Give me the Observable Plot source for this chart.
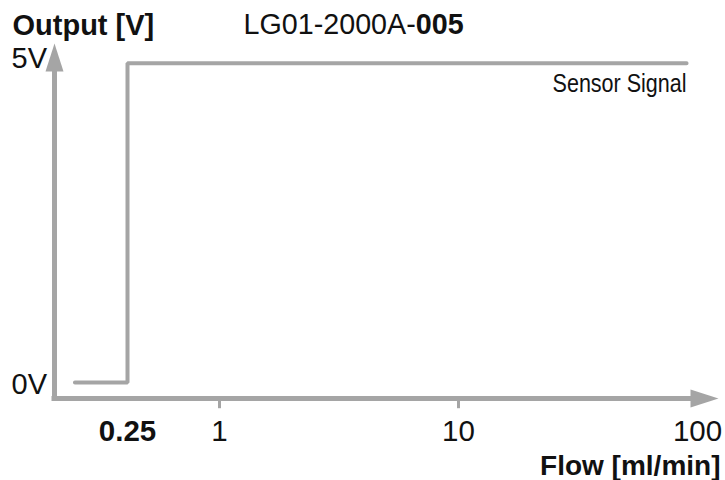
<!DOCTYPE html>
<html>
<head>
<meta charset="utf-8">
<script src="https://cdn.jsdelivr.net/npm/d3@7"></script>
<script src="https://cdn.jsdelivr.net/npm/@observablehq/plot@0.6"></script>
<style>
  html, body { margin: 0; padding: 0; background: #fff; }
</style>
</head>
<body>
<div id="chart"></div>
<script>
// ---- data ----
const flowTicks = [0.25, 1, 10, 100];
const flowTickLabels = ["0.25", "1", "10", "100"];
const tickMarkFlow = [1, 10];
const voltTicks = [5, 0];
const voltTickLabels = ["5V", "0V"];
const signalFlow = [0.1, 0.25, 0.25, 90];
const signalVolt = [0, 0, 5, 5];
const xAxisFlow = [0.07, 100, 122];   // start, line end, arrow tip
const yAxisVolt = [-0.25, 5, 5.31];   // origin, line end, arrow tip
const titleText = "Output [V]";
const modelText = "LG01-2000A-005";
const xTitleText = "Flow [ml/min]";
const seriesLabel = "Sensor Signal";

const GRAY = "#a5a5a5";
const INK = "#111";

const signal = signalFlow.map((f, i) => ({flow: f, volt: signalVolt[i]}));
const ticks = flowTicks.map((f, i) => ({flow: f, label: flowTickLabels[i]}));
const vticks = voltTicks.map((v, i) => ({volt: v, label: voltTickLabels[i]}));

const arrowRight = {draw(ctx) { ctx.moveTo(0, 0); ctx.lineTo(-28, -9); ctx.lineTo(-28, 9); ctx.closePath(); }};
const arrowUp = {draw(ctx) { ctx.moveTo(0, 0); ctx.lineTo(-9, 28); ctx.lineTo(9, 28); ctx.closePath(); }};

const chart = Plot.plot({
  width: 725,
  height: 480,
  marginLeft: 54,
  marginRight: 7,
  marginTop: 43,
  marginBottom: 82,
  style: {fontFamily: "'Liberation Sans', Arial, sans-serif", background: "#fff", color: INK},
  x: {type: "log", domain: [xAxisFlow[0], 0.25, 1, 100, xAxisFlow[2]], range: [54, 127, 219, 697, 718], axis: null},
  y: {type: "linear", domain: [yAxisVolt[0], yAxisVolt[2]], axis: null},
  marks: [
    // axes lines
    Plot.ruleY([{y: yAxisVolt[0], x1: xAxisFlow[0], x2: xAxisFlow[1]}], {y: "y", x1: "x1", x2: "x2", stroke: GRAY, strokeWidth: 5, strokeLinecap: "square"}),
    Plot.ruleX([{x: xAxisFlow[0], y1: yAxisVolt[0], y2: yAxisVolt[1]}], {x: "x", y1: "y1", y2: "y2", stroke: GRAY, strokeWidth: 5, strokeLinecap: "square"}),
    // arrow heads
    Plot.dot([{x: xAxisFlow[2], y: yAxisVolt[0]}], {x: "x", y: "y", symbol: arrowRight, fill: GRAY, stroke: "none"}),
    Plot.dot([{x: xAxisFlow[0], y: yAxisVolt[2]}], {x: "x", y: "y", symbol: arrowUp, fill: GRAY, stroke: "none"}),
    // tick marks
    Plot.ruleX(tickMarkFlow, {x: d => d, y1: yAxisVolt[0], y2: -0.41, stroke: GRAY, strokeWidth: 3}),
    // signal
    Plot.line(signal, {x: "flow", y: "volt", stroke: GRAY, strokeWidth: 4, strokeLinejoin: "miter"}),
    // x tick labels
    Plot.text(ticks.filter(d => d.label === "0.25"), {x: "flow", y: () => yAxisVolt[0], text: "label", fontSize: 29.5, fontWeight: "bold", fill: INK, lineAnchor: "bottom", dy: 42}),
    Plot.text(ticks.filter(d => d.label !== "0.25"), {x: "flow", y: () => yAxisVolt[0], text: "label", fontSize: 29.5, fill: INK, lineAnchor: "bottom", dy: 42}),
    // y tick labels
    Plot.text(vticks.filter(d => d.volt === 5), {x: () => xAxisFlow[0], y: "volt", text: "label", fontSize: 29, fill: INK, textAnchor: "start", lineAnchor: "bottom", dx: -43, dy: 5}),
    Plot.text(vticks.filter(d => d.volt === 0), {x: () => xAxisFlow[0], y: "volt", text: "label", fontSize: 29, fill: INK, textAnchor: "start", lineAnchor: "bottom", dx: -43, dy: 11}),
    // series label
    Plot.text([seriesLabel], {x: () => signalFlow[3], y: () => signalVolt[3], text: d => d, fontSize: 25, fill: INK, textAnchor: "end", lineAnchor: "bottom", dy: 29}),
    // titles
    Plot.text([titleText], {frameAnchor: "top-left", text: d => d, fontSize: 29, fontWeight: "bold", fill: INK, textAnchor: "start", lineAnchor: "bottom", dx: -42, dy: -9}),
    Plot.text([modelText], {frameAnchor: "top-left", text: d => d, fontSize: 28.7, fill: INK, textAnchor: "start", lineAnchor: "bottom", dx: 189, dy: -10}),
    Plot.text([xTitleText], {frameAnchor: "bottom-right", text: d => d, fontSize: 28, fontWeight: "bold", fill: INK, textAnchor: "end", lineAnchor: "bottom", dx: 2, dy: 76})
  ]
});

// mixed weight model name and condensed series label
d3.select(chart).selectAll("text").each(function() {
  const t = this.textContent;
  const sel = d3.select(this);
  if (t === modelText) {
    const parts = [modelText.slice(0, -3), modelText.slice(-3)];
    sel.text(null);
    sel.append("tspan").text(parts[0]);
    sel.append("tspan").attr("font-weight", "bold").text(parts[1]);
  } else if (t === seriesLabel) {
    sel.attr("textLength", 134).attr("lengthAdjust", "spacingAndGlyphs");
  }
});

document.getElementById("chart").appendChild(chart);
</script>
</body>
</html>
